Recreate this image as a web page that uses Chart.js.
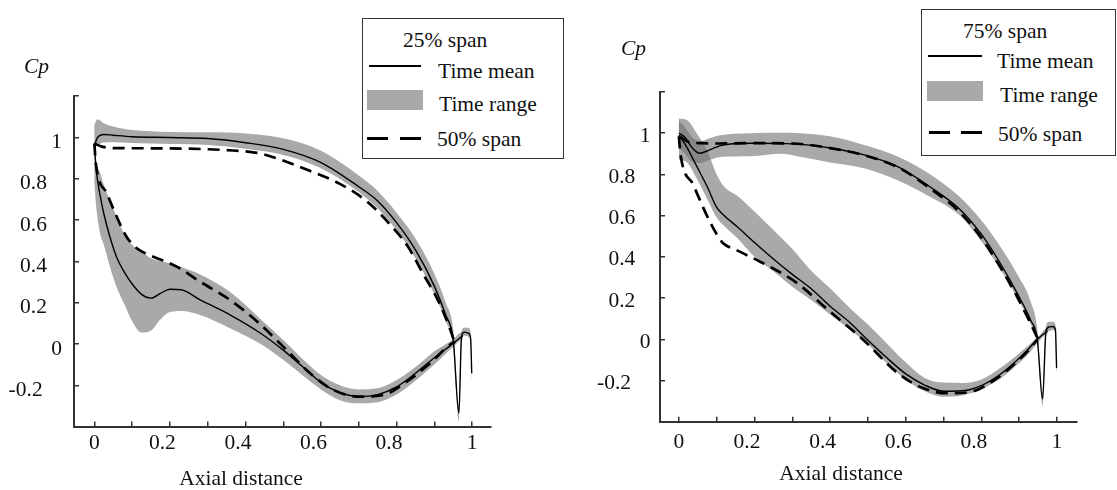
<!DOCTYPE html>
<html>
<head>
<meta charset="utf-8">
<script src="https://cdn.jsdelivr.net/npm/chart.js@4"></script>
<style>
  html, body { margin: 0; padding: 0; background: #fff; }
  #wrap { position: relative; width: 1117px; height: 490px; overflow: hidden;
          font-family: "Liberation Serif", "Times New Roman", serif; color: #111; }
  canvas { position: absolute; top: 0; }
  .txt { position: absolute; font-size: 21.5px; line-height: 22px; white-space: nowrap; }
  .box { position: absolute; border: 1px solid #333; background: #fff; box-sizing: border-box; }
  .mean { position: absolute; height: 1.5px; background: #000; }
  .dash { position: absolute; height: 3px; width: 21px; background: #000; }
  .range { position: absolute; width: 56px; height: 20px; background: #a9a9a9; }
</style>
</head>
<body>
<div id="wrap">
  <canvas id="c25" width="560" height="490" style="left:0"></canvas>
  <canvas id="c75" width="560" height="490" style="left:557px"></canvas>

  <div class="txt" style="left:24px;top:55px;font-style:italic">Cp</div>
  <div class="txt" style="left:621px;top:37px;font-style:italic">Cp</div>
  <div class="txt" style="left:241px;top:467px;transform:translateX(-50%)">Axial distance</div>
  <div class="txt" style="left:841px;top:462px;transform:translateX(-50%)">Axial distance</div>

  <div class="box" style="left:362px;top:18px;width:202px;height:141px"></div>
  <div class="txt" style="left:403px;top:29px">25% span</div>
  <div class="mean" style="left:369px;top:65px;width:52px"></div>
  <div class="txt" style="left:438px;top:60px">Time mean</div>
  <div class="range" style="left:367px;top:90px"></div>
  <div class="txt" style="left:439px;top:93px">Time range</div>
  <div class="dash" style="left:367px;top:137px"></div>
  <div class="dash" style="left:400px;top:137px"></div>
  <div class="txt" style="left:437px;top:128px">50% span</div>

  <div class="box" style="left:921px;top:9px;width:195px;height:147px"></div>
  <div class="txt" style="left:963px;top:20px">75% span</div>
  <div class="mean" style="left:928px;top:55px;width:54px"></div>
  <div class="txt" style="left:997px;top:50px">Time mean</div>
  <div class="range" style="left:927px;top:81px"></div>
  <div class="txt" style="left:1000px;top:84px">Time range</div>
  <div class="dash" style="left:929px;top:131px"></div>
  <div class="dash" style="left:961px;top:131px"></div>
  <div class="txt" style="left:998px;top:123px">50% span</div>
</div>
<script>
// ---- 25% span: pressure side (upper branch, incl. trailing edge spike)
const ps25X    = [0.000, 0.008, 0.025, 0.050, 0.100, 0.200, 0.300, 0.400, 0.500, 0.600, 0.700, 0.750, 0.800, 0.850, 0.900, 0.930, 0.950, 0.965, 0.972, 0.980, 0.990, 0.996, 0.999];
const ps25Mean = [0.960, 0.998, 1.014, 1.010, 1.003, 0.999, 0.994, 0.974, 0.942, 0.878, 0.761, 0.692, 0.587, 0.455, 0.280, 0.140, 0.020, -0.335, 0.035, 0.057, 0.052, 0.027, -0.142];
const ps25Lo   = [0.950, 0.962, 0.975, 0.976, 0.972, 0.968, 0.963, 0.945, 0.915, 0.850, 0.735, 0.655, 0.550, 0.415, 0.240, 0.110, -0.010, -0.375, 0.015, 0.040, 0.035, 0.005, -0.165];
const ps25Hi   = [1.060, 1.087, 1.068, 1.052, 1.035, 1.026, 1.024, 1.019, 0.995, 0.935, 0.815, 0.740, 0.635, 0.510, 0.340, 0.200, 0.070, -0.300, 0.060, 0.080, 0.078, 0.055, -0.120];
// ---- 25% span: suction side (lower branch)
const ss25X    = [0.000, 0.005, 0.015, 0.025, 0.040, 0.060, 0.080, 0.100, 0.125, 0.150, 0.175, 0.200, 0.230, 0.280, 0.360, 0.440, 0.500, 0.550, 0.600, 0.650, 0.700, 0.750, 0.800, 0.850, 0.900, 0.950, 0.975];
const ss25Mean = [0.960, 0.840, 0.720, 0.630, 0.525, 0.415, 0.345, 0.290, 0.240, 0.222, 0.245, 0.265, 0.262, 0.213, 0.140, 0.052, -0.030, -0.108, -0.187, -0.235, -0.254, -0.245, -0.208, -0.142, -0.067, 0.003, 0.040];
const ss25Lo   = [0.780, 0.660, 0.535, 0.480, 0.380, 0.270, 0.190, 0.110, 0.055, 0.065, 0.120, 0.155, 0.160, 0.140, 0.075, 0.000, -0.077, -0.150, -0.220, -0.272, -0.287, -0.282, -0.245, -0.178, -0.100, -0.013, 0.020];
const ss25Hi   = [0.975, 0.880, 0.830, 0.770, 0.700, 0.610, 0.530, 0.480, 0.445, 0.415, 0.400, 0.390, 0.372, 0.336, 0.250, 0.120, 0.019, -0.070, -0.150, -0.200, -0.220, -0.215, -0.175, -0.112, -0.035, 0.022, 0.060];
// ---- 50% span reference, as drawn on the 25% plot
const d25uX = [0.000, 0.020, 0.050, 0.150, 0.250, 0.350, 0.430, 0.480, 0.570, 0.650, 0.720, 0.780, 0.830, 0.870, 0.910, 0.940, 0.955];
const d25uY = [0.970, 0.955, 0.948, 0.947, 0.945, 0.938, 0.925, 0.900, 0.838, 0.775, 0.692, 0.584, 0.471, 0.340, 0.210, 0.080, 0.000];
const d25lX = [0.000, 0.004, 0.033, 0.059, 0.085, 0.105, 0.125, 0.156, 0.218, 0.280, 0.359, 0.430, 0.500, 0.571, 0.633, 0.703, 0.765, 0.827, 0.889, 0.940, 0.955];
const d25lY = [0.970, 0.870, 0.729, 0.616, 0.519, 0.475, 0.448, 0.422, 0.374, 0.301, 0.213, 0.110, -0.013, -0.142, -0.223, -0.255, -0.247, -0.182, -0.093, -0.005, 0.010];

// ---- 75% span: pressure side
const ps75X    = [0.000, 0.016, 0.035, 0.055, 0.080, 0.110, 0.190, 0.270, 0.320, 0.400, 0.490, 0.580, 0.660, 0.740, 0.800, 0.850, 0.895, 0.930, 0.948, 0.962, 0.971, 0.980, 0.990, 0.996, 0.999];
const ps75Mean = [1.000, 0.980, 0.930, 0.903, 0.918, 0.940, 0.951, 0.950, 0.947, 0.928, 0.895, 0.837, 0.745, 0.636, 0.510, 0.369, 0.223, 0.094, 0.000, -0.290, 0.040, 0.060, 0.062, 0.045, -0.140];
const ps75Lo   = [0.930, 0.900, 0.860, 0.855, 0.870, 0.885, 0.888, 0.900, 0.886, 0.858, 0.830, 0.770, 0.695, 0.605, 0.476, 0.340, 0.200, 0.075, -0.015, -0.325, 0.020, 0.040, 0.045, 0.025, -0.160];
const ps75Hi   = [1.060, 1.030, 0.980, 0.960, 0.975, 0.990, 1.000, 1.002, 1.000, 0.985, 0.943, 0.886, 0.806, 0.695, 0.578, 0.450, 0.315, 0.185, 0.050, -0.260, 0.065, 0.085, 0.085, 0.070, -0.120];
// ---- 75% span: suction side
const ss75X    = [0.000, 0.020, 0.047, 0.075, 0.100, 0.120, 0.155, 0.200, 0.250, 0.300, 0.350, 0.400, 0.450, 0.500, 0.550, 0.600, 0.650, 0.700, 0.750, 0.800, 0.850, 0.900, 0.930, 0.950, 0.975];
const ss75Mean = [0.990, 0.935, 0.840, 0.740, 0.640, 0.600, 0.545, 0.470, 0.390, 0.315, 0.245, 0.160, 0.085, -0.005, -0.090, -0.168, -0.222, -0.252, -0.250, -0.225, -0.170, -0.092, -0.036, 0.003, 0.040];
const ss75Lo   = [0.870, 0.860, 0.780, 0.680, 0.590, 0.550, 0.490, 0.400, 0.330, 0.255, 0.190, 0.120, 0.050, -0.025, -0.117, -0.196, -0.252, -0.279, -0.273, -0.243, -0.192, -0.115, -0.060, -0.015, 0.025];
const ss75Hi   = [1.070, 1.065, 1.000, 0.915, 0.800, 0.740, 0.695, 0.620, 0.530, 0.438, 0.333, 0.248, 0.156, 0.072, -0.020, -0.112, -0.188, -0.210, -0.212, -0.195, -0.140, -0.068, -0.020, 0.012, 0.055];
// ---- 50% span reference, as drawn on the 75% plot
const d75uX = [0.000, 0.030, 0.060, 0.100, 0.200, 0.300, 0.400, 0.490, 0.580, 0.660, 0.740, 0.800, 0.850, 0.895, 0.930, 0.950];
const d75uY = [0.985, 0.955, 0.952, 0.950, 0.952, 0.950, 0.928, 0.893, 0.834, 0.738, 0.622, 0.492, 0.350, 0.205, 0.078, 0.000];
const d75lX = [0.000, 0.004, 0.038, 0.064, 0.082, 0.100, 0.117, 0.150, 0.200, 0.240, 0.311, 0.400, 0.488, 0.576, 0.638, 0.708, 0.770, 0.841, 0.894, 0.929, 0.947];
const d75lY = [0.985, 0.900, 0.750, 0.640, 0.570, 0.510, 0.466, 0.435, 0.390, 0.353, 0.275, 0.134, -0.003, -0.160, -0.231, -0.262, -0.256, -0.190, -0.109, -0.044, -0.003];

// tick labels
const xLabelVals = [0, 0.2, 0.4, 0.6, 0.8, 1];
const yLabelVals = [-0.2, 0, 0.2, 0.4, 0.6, 0.8, 1];

function pts(xs, ys) {
    return xs.map((x, i) => ({ x: x, y: ys[i] }));
}
// closed outline of the time range band: upper edge forward, lower edge back
function band(xs, lo, hi) {
    return pts(xs, hi).concat(pts(xs, lo).reverse());
}
function fmt(v) {
    // decimals carry some trailing room, as in the original figure
    if (Number.isInteger(v)) return String(v);
    return String(v) + '\u2002\u2009' + (v < 0 ? '\u2009' : '');
}

const BAND = 'rgba(112,112,112,0.6)';

function makeChart(id, d, lay) {
    const line = (data, dashed) => ({
        data: data,
        borderColor: '#000',
        borderWidth: dashed ? 2.7 : 1.4,
        borderDash: dashed ? [12, 7] : [],
        pointRadius: 0,
        fill: false,
        cubicInterpolationMode: 'monotone',
        order: 1
    });
    const shade = data => ({
        data: data,
        borderWidth: 0,
        backgroundColor: BAND,
        pointRadius: 0,
        fill: 'shape',
        cubicInterpolationMode: 'monotone',
        order: 2
    });
    const axisFont = { family: 'Liberation Serif', size: 21.5 };

    new Chart(document.getElementById(id), {
        type: 'line',
        data: {
            datasets: [
                line(pts(d.psX, d.psMean), false),
                line(pts(d.ssX, d.ssMean), false),
                line(pts(d.duX, d.duY), true),
                line(pts(d.dlX, d.dlY), true),
                shade(band(d.psX, d.psLo, d.psHi)),
                shade(band(d.ssX, d.ssLo, d.ssHi))
            ]
        },
        options: {
            responsive: false,
            animation: false,
            events: [],
            layout: { padding: { left: 0, top: lay.top, right: lay.right, bottom: 0 } },
            plugins: { legend: { display: false }, tooltip: { enabled: false } },
            scales: {
                x: {
                    type: 'linear',
                    min: lay.xmin,
                    max: lay.xmax,
                    afterFit: s => { s.height = lay.xh; },
                    ticks: {
                        stepSize: 0.1,
                        includeBounds: false,
                        autoSkip: false,
                        maxRotation: 0,
                        minRotation: 0,
                        padding: lay.xpad,
                        color: '#111',
                        font: axisFont,
                        callback: v => {
                            const r = Math.round(v * 10) / 10;
                            return xLabelVals.includes(r) ? fmt(r) : '';
                        }
                    },
                    grid: { drawOnChartArea: false, tickLength: -5, color: '#333', lineWidth: 1.5 },
                    border: { color: '#333', width: 2 }
                },
                y: {
                    min: -0.4,
                    max: 1.2,
                    afterFit: s => { s.width = lay.yw; },
                    ticks: {
                        stepSize: 0.2,
                        autoSkip: false,
                        padding: lay.ypad,
                        labelOffset: lay.yoff,
                        color: '#111',
                        font: axisFont,
                        callback: v => {
                            const r = Math.round(v * 10) / 10;
                            return yLabelVals.includes(r) ? fmt(r) : '';
                        }
                    },
                    grid: { drawOnChartArea: false, tickLength: -5, color: '#333', lineWidth: 1.5 },
                    border: { color: '#333', width: 2 }
                }
            }
        }
    });
}

makeChart('c25', {
    psX: ps25X, psMean: ps25Mean, psLo: ps25Lo, psHi: ps25Hi,
    ssX: ss25X, ssMean: ss25Mean, ssLo: ss25Lo, ssHi: ss25Hi,
    duX: d25uX, duY: d25uY, dlX: d25lX, dlY: d25lY
}, { top: 96, right: 69, yw: 74, xh: 63.4, xmin: -0.054, xmax: 1.05, xpad: 9, ypad: 17, yoff: 5 });

makeChart('c75', {
    psX: ps75X, psMean: ps75Mean, psLo: ps75Lo, psHi: ps75Hi,
    ssX: ss75X, ssMean: ss75Mean, ssLo: ss75Lo, ssHi: ss75Hi,
    duX: d75uX, duY: d75uY, dlX: d75lX, dlY: d75lY
}, { top: 92, right: 40, yw: 103, xh: 68.3, xmin: -0.05, xmax: 1.053, xpad: 13, ypad: 14.6, yoff: 3 });
</script>
</body>
</html>
